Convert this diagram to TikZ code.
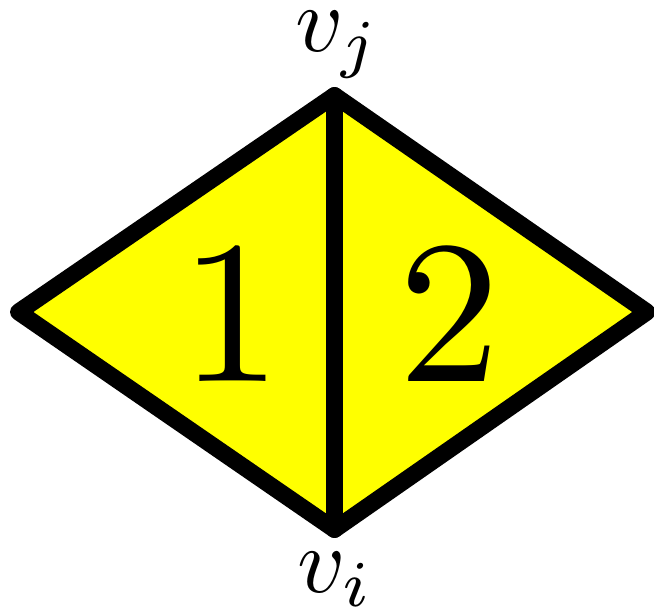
\documentclass[tikz,border=0pt]{standalone}
\usetikzlibrary{calc}
\usepackage{tkz-euclide}
\definecolor{FaceClr}{rgb}{1,1,0}

\begin{document}
\begin{tikzpicture}[scale=1]
\useasboundingbox (0,0) rectangle (6.54,6.12);
\tkzSetUpLine[line width=4.8pt,color=black]

\tkzDefPoints{0.185/3/L,6.47/3/R,3.345/5.165/J,3.345/0.825/I}

\tkzFillPolygon[fill=FaceClr](L,I,R,J)
\tkzDrawPolygon[line width=4.8pt,line join=round](L,I,R,J)
\tkzDrawSegment[line width=4.8pt](I,J)

\node[anchor=base,scale=5.8,transform shape] (f1) at (2.31,2.30) {$1$};
\node[anchor=base,scale=5.8,transform shape] (f2) at (4.49,2.30) {$2$};
\node[anchor=base,scale=2.65,transform shape] (lj) at (3.375,5.60) {$v_j$};
\node[anchor=base,scale=2.65,transform shape] (li) at (3.355,0.19) {$v_i$};

\end{tikzpicture}
\end{document}
